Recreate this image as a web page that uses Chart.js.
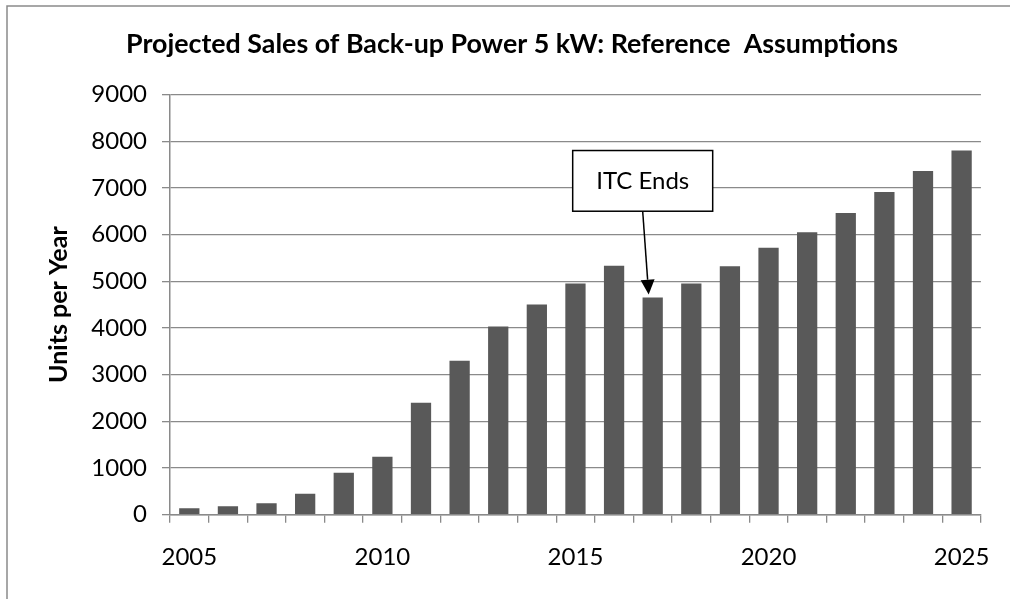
<!DOCTYPE html>
<html>
<head>
<meta charset="utf-8">
<script src="https://cdn.jsdelivr.net/npm/chart.js@4.4.1/dist/chart.umd.min.js"></script>
<style>
 html, body { margin: 0; padding: 0; background: #fff; }
</style>
</head>
<body>
<canvas id="chartCanvas" width="1010" height="599"></canvas>
<script>
const years = ['2005', '2006', '2007', '2008', '2009', '2010', '2011', '2012', '2013', '2014', '2015',
               '2016', '2017', '2018', '2019', '2020', '2021', '2022', '2023', '2024', '2025'];
const unitsPerYear = [140, 180, 245, 450, 900, 1240, 2400, 3300, 4030, 4500, 4950,
                      5330, 4650, 4950, 5320, 5720, 6050, 6460, 6910, 7360, 7800];
const yMin = 0;
const yMax = 9000;
const yStep = 1000;
const labelEvery = 5;
const chartTitle = 'Projected Sales of Back-up Power 5 kW: Reference  Assumptions';
const yTitle = 'Units per Year';
const noteText = 'ITC Ends';
const noteYear = '2017';

const gridGray = '#8a8a8a';

// marco, titulos y la nota "ITC Ends"
const extras = {
  id: 'extras',
  beforeDraw(chart) {
    const ctx = chart.ctx;
    ctx.save();
    ctx.fillStyle = '#fff';
    ctx.fillRect(0, 0, chart.width, chart.height);
    ctx.strokeStyle = gridGray;
    ctx.lineWidth = 1.5;
    ctx.beginPath();
    ctx.moveTo(7, chart.height);
    ctx.lineTo(7, 6);
    ctx.lineTo(chart.width, 6);
    ctx.stroke();
    ctx.restore();
  },
  afterDraw(chart) {
    const ctx = chart.ctx;
    const xs = chart.scales.x;
    const ys = chart.scales.y;
    const area = chart.chartArea;
    ctx.save();

    // titulo
    ctx.fillStyle = '#000';
    ctx.font = 'bold 26.8px Lato';
    ctx.textAlign = 'center';
    ctx.textBaseline = 'alphabetic';
    ctx.fillText(chartTitle, 512, 53);

    // titulo del eje Y
    ctx.save();
    ctx.translate(67, (area.top + area.bottom) / 2);
    ctx.rotate(-Math.PI / 2);
    ctx.font = 'bold 25px Lato';
    ctx.fillText(yTitle, 0, 0);
    ctx.restore();

    const i = years.indexOf(noteYear);
    const tipX = xs.getPixelForValue(i) - 4;
    const tipY = ys.getPixelForValue(unitsPerYear[i]) - 3;
    const boxCx = tipX - 6;
    const boxTop = ys.getPixelForValue(7800);
    const boxBottom = ys.getPixelForValue(6500);
    const boxW = 140;

    // flecha
    const ang = Math.atan2(tipY - boxBottom, tipX - boxCx);
    const headLen = 15, headHalf = 7;
    const bx = tipX - headLen * Math.cos(ang);
    const by = tipY - headLen * Math.sin(ang);
    ctx.strokeStyle = '#000';
    ctx.lineWidth = 1.5;
    ctx.beginPath();
    ctx.moveTo(boxCx, boxBottom);
    ctx.lineTo(bx, by);
    ctx.stroke();
    ctx.fillStyle = '#000';
    ctx.beginPath();
    ctx.moveTo(tipX, tipY);
    ctx.lineTo(bx + headHalf * Math.sin(ang), by - headHalf * Math.cos(ang));
    ctx.lineTo(bx - headHalf * Math.sin(ang), by + headHalf * Math.cos(ang));
    ctx.closePath();
    ctx.fill();

    // caja
    ctx.fillStyle = '#fff';
    ctx.fillRect(boxCx - boxW / 2, boxTop, boxW, boxBottom - boxTop);
    ctx.strokeRect(boxCx - boxW / 2, boxTop, boxW, boxBottom - boxTop);
    ctx.fillStyle = '#000';
    ctx.font = '24px Lato';
    ctx.textBaseline = 'middle';
    ctx.fillText(noteText, boxCx, (boxTop + boxBottom) / 2);

    ctx.restore();
  }
};

const ctx = document.getElementById('chartCanvas').getContext('2d');
new Chart(ctx, {
  type: 'bar',
  data: {
    labels: years,
    datasets: [{
      label: yTitle,
      data: unitsPerYear,
      backgroundColor: '#595959',
      borderWidth: 0,
      categoryPercentage: 1,
      barPercentage: 0.525
    }]
  },
  options: {
    responsive: false,
    animation: false,
    devicePixelRatio: 1,
    layout: {
      padding: { left: 0, right: 23, top: 94.5, bottom: 0 }
    },
    plugins: {
      legend: { display: false },
      title: { display: false },
      tooltip: { enabled: false }
    },
    scales: {
      x: {
        afterFit(scale) { scale.height = 84.3; },
        grid: {
          offset: true,
          drawOnChartArea: false,
          drawTicks: true,
          tickLength: 8,
          color: gridGray,
          lineWidth: 1.3
        },
        border: { color: gridGray, width: 1.5 },
        ticks: {
          autoSkip: false,
          maxRotation: 0,
          padding: 20,
          color: '#000',
          font: { family: 'Lato', size: 24 },
          callback: function (value, index) {
            return index % labelEvery === 0 ? years[index] : '';
          }
        }
      },
      y: {
        min: yMin,
        max: yMax,
        afterFit(scale) { scale.width = 170; },
        grid: {
          color: gridGray,
          lineWidth: 1.3,
          tickLength: 8
        },
        border: { color: gridGray, width: 1.5 },
        ticks: {
          stepSize: yStep,
          padding: 15,
          color: '#000',
          font: { family: 'Lato', size: 24 },
          callback: function (value) { return String(value); }
        }
      }
    }
  },
  plugins: [extras]
});
</script>
</body>
</html>
